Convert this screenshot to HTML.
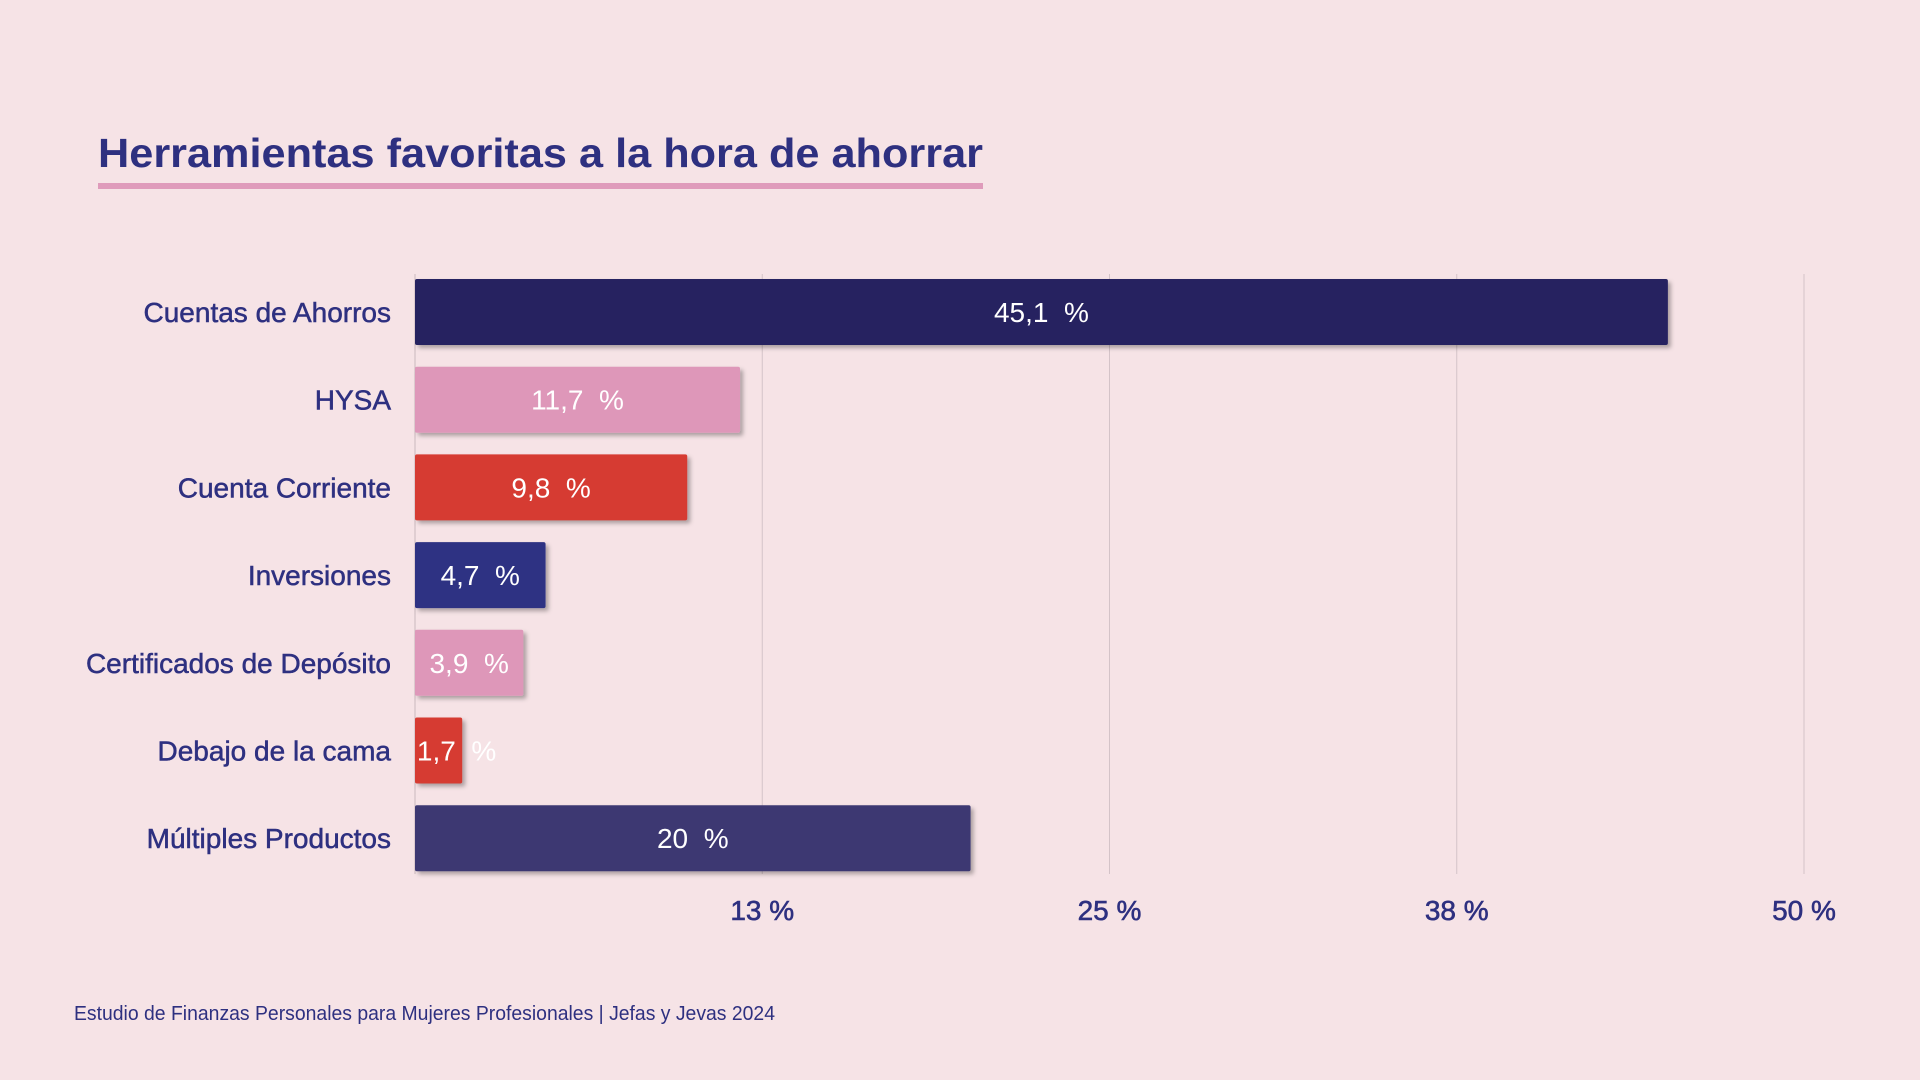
<!DOCTYPE html>
<html><head><meta charset="utf-8">
<style>
html,body{margin:0;padding:0;background:#f6e3e6;}
svg{display:block;font-family:"Liberation Sans",sans-serif;}
.pre{white-space:pre;}
</style></head>
<body>
<svg id="chart" width="1920" height="1080" viewBox="0 0 1920 1080" xmlns="http://www.w3.org/2000/svg">
<defs>
<filter id="sh" x="-10%" y="-20%" width="130%" height="150%">
<feDropShadow dx="3" dy="3" stdDeviation="2" flood-color="#000" flood-opacity="0.3"/>
</filter>
</defs>
<rect width="1920" height="1080" fill="#f6e3e6"/>
<text x="98" y="167" font-size="41" font-weight="bold" fill="#2e3080" textLength="885" lengthAdjust="spacingAndGlyphs">Herramientas favoritas a la hora de ahorrar</text>
<rect x="98" y="183" width="885" height="6" fill="#df9bbb"/>
<g id="grid"></g>
<g id="bars"></g>
<g id="ticks"></g>
<text x="74" y="1020" font-size="20" fill="#2e3080" textLength="701" lengthAdjust="spacingAndGlyphs">Estudio de Finanzas Personales para Mujeres Profesionales | Jefas y Jevas 2024</text>
</svg>
<script>
const categories = ["Cuentas de Ahorros","HYSA","Cuenta Corriente","Inversiones","Certificados de Depósito","Debajo de la cama","Múltiples Productos"];
const values = [45.1, 11.7, 9.8, 4.7, 3.9, 1.7, 20];
const valueLabels = ["45,1  %","11,7  %","9,8  %","4,7  %","3,9  %","1,7  %","20  %"];
const colors = ["#262460","#de97b9","#d63b33","#2e3383","#de97b9","#d63b33","#3c3872"];
const tickValues = [12.5, 25, 37.5, 50];
const tickLabels = ["13 %","25 %","38 %","50 %"];

const NS = "http://www.w3.org/2000/svg";
const x0 = 415, x1 = 1804, xMax = 50;
const xs = v => x0 + (v / xMax) * (x1 - x0);
const yTop = 279, step = 87.7, barH = 66;
const ys = i => yTop + i * step;
function mk(tag, attrs, parent) {
  const e = document.createElementNS(NS, tag);
  for (const k in attrs) e.setAttribute(k, attrs[k]);
  parent.appendChild(e);
  return e;
}
const grid = document.getElementById('grid');
const bars = document.getElementById('bars');
const ticks = document.getElementById('ticks');

const axis = mk('line', {x1: xs(0), x2: xs(0), y1: 274, y2: 874, stroke: '#c9b8bd', 'stroke-width': 1}, grid);


tickValues.forEach((t, i) => {
  const g = mk('line', {x1: xs(t), x2: xs(t), y1: 274, y2: 874, stroke: '#d4c3c8', 'stroke-width': 1}, grid);
  
  
  const tl = mk('text', {x: xs(t), y: 920, 'font-size': 28, fill: '#2e3080', 'text-anchor': 'middle', stroke: '#2e3080', 'stroke-width': 0.6}, ticks);
  tl.textContent = tickLabels[i];
  
  
});
categories.forEach((c, i) => {
  const y = ys(i);
  const r = mk('rect', {x: xs(0), y: y, width: xs(values[i]) - xs(0), height: barH, fill: colors[i], rx: 2, filter: 'url(#sh)'}, bars);
  
  
  const lab = mk('text', {x: 391, y: y + barH / 2 + 10, 'font-size': 28, fill: '#2e3080', 'text-anchor': 'end', stroke: '#2e3080', 'stroke-width': 0.5}, bars);
  lab.textContent = c;
  
  
  const vl = mk('text', {x: (xs(0) + xs(values[i])) / 2 + (values[i] < 3 ? 18 : 0), y: y + barH / 2 + 10, 'font-size': 28, fill: '#ffffff', 'text-anchor': 'middle', 'class': 'pre'}, bars);
  vl.textContent = valueLabels[i];
  
  
});
</script>
</body></html>
